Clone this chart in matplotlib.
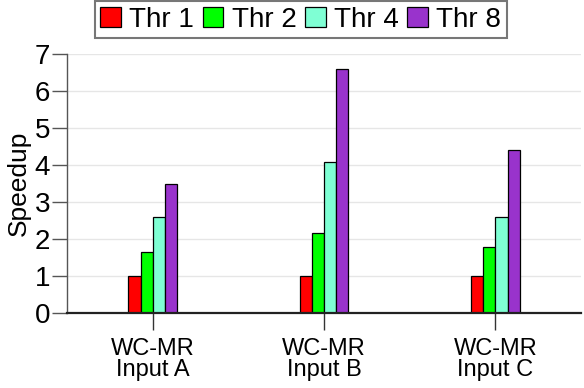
import numpy as np
import matplotlib
matplotlib.use('Agg')
import matplotlib.pyplot as plt

plt.rcParams['font.family'] = ['Liberation Sans', 'DejaVu Sans']

# data
groups = ['WC-MR\nInput A', 'WC-MR\nInput B', 'WC-MR\nInput C']
series = ['Thr 1', 'Thr 2', 'Thr 4', 'Thr 8']
thr1 = [1.0, 1.0, 1.0]
thr2 = [1.65, 2.16, 1.78]
thr4 = [2.59, 4.08, 2.6]
thr8 = [3.49, 6.6, 4.4]
colors = ['#ff0000', '#00ff00', '#7fffd4', '#9933cc']

fig = plt.figure(figsize=(5.84, 3.88), dpi=100)
ax = fig.add_axes([0.1147, 0.1925, 0.8803, 0.6685])

x = np.arange(len(groups))
w = 0.071
for i, (vals, name) in enumerate(zip([thr1, thr2, thr4, thr8], series)):
    ax.bar(x + (i - 1.5) * w, vals, w, color=colors[i], edgecolor='black',
           linewidth=0.9, label=name, zorder=3)

ax.set_xlim(-0.5, 2.5)
ax.set_ylim(0, 7)
ax.set_yticks(range(8))
ax.set_xticks(x)
ax.set_xticklabels(groups, fontsize=17, linespacing=0.95)
ax.tick_params(axis='y', labelsize=20, length=11, width=1, color='#555555', pad=1)
ax.tick_params(axis='x', length=12.5, width=1, color='#333333', pad=5)
ax.set_ylabel('Speedup', fontsize=19, labelpad=3)

ax.grid(axis='y', color='#e6e6e6', linewidth=1, zorder=0)
for s in ['top', 'right']:
    ax.spines[s].set_visible(False)
ax.spines['left'].set_color('#555555')
ax.spines['left'].set_linewidth(1)
ax.spines['bottom'].set_color('#222222')
ax.spines['bottom'].set_linewidth(1.6)
ax.spines['bottom'].set_zorder(4)

leg = fig.legend(loc='upper center', bbox_to_anchor=(0.515, 0.997), ncol=4,
                 fontsize=20, frameon=True, fancybox=False, handlelength=0.75,
                 handleheight=0.75, handletextpad=0.3, columnspacing=0.3,
                 borderpad=0.2, borderaxespad=0)
leg.get_frame().set_edgecolor('#555555')
leg.get_frame().set_linewidth(1.5)

fig.savefig('out.png', dpi=100)
